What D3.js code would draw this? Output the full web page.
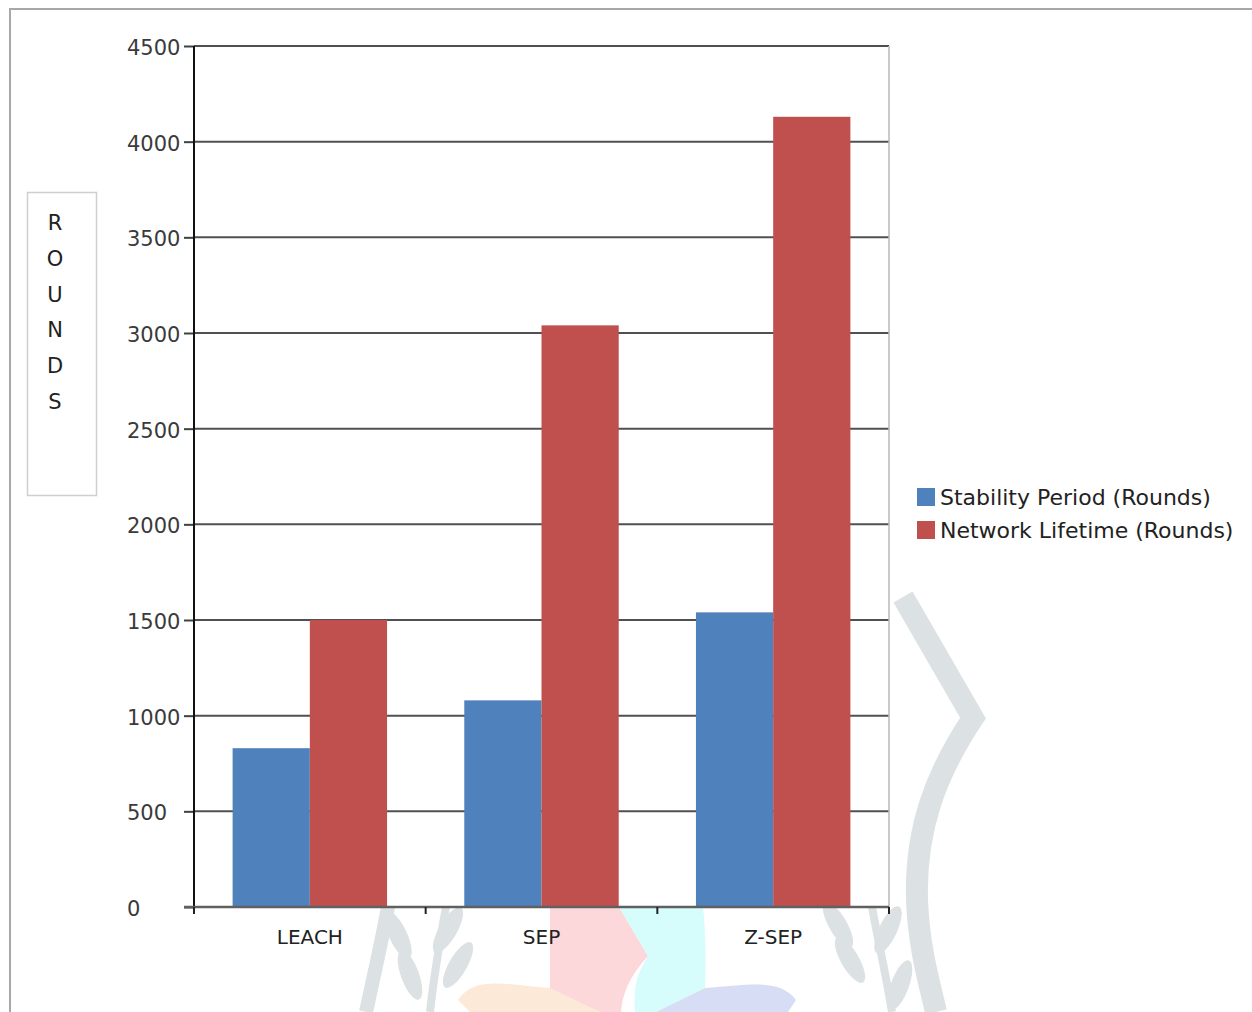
<!DOCTYPE html>
<html>
<head>
<meta charset="utf-8">
<script src="https://cdn.jsdelivr.net/npm/d3@7"></script>
<style>
  html, body { margin: 0; padding: 0; background: #fff; }
  svg { display: block; }
  text { font-family: "DejaVu Sans", "Noto Sans", sans-serif; }
</style>
</head>
<body>
<svg id="chart" width="1252" height="1012"></svg>
<script>
// Protocols compared and the rounds each one lasts
const categories = ["LEACH", "SEP", "Z-SEP"];
const seriesNames = ["Stability Period (Rounds)", "Network Lifetime (Rounds)"];
const stabilityPeriod = [830, 1080, 1540];
const networkLifetime = [1500, 3040, 4130];
const yTicks = [0, 500, 1000, 1500, 2000, 2500, 3000, 3500, 4000, 4500];
const axisTitleLetters = ["R", "O", "U", "N", "D", "S"];

const colors = ["#4f81bd", "#c0504d"];
const FONT = "'DejaVu Sans', sans-serif";

const svg = d3.select("#chart");
const W = 1252, H = 1012;
const margin = { left: 194, top: 46, right: W - 889, bottom: H - 907 };
const plotW = W - margin.left - margin.right;
const plotH = H - margin.top - margin.bottom;

// Faint background emblem behind the chart
const wm = svg.append("g").attr("class", "emblem");
wm.append("path")
  .attr("d", "M903,597 L973,718 C935,775 915,830 917,900 C919,950 930,985 936,1012")
  .attr("fill", "none").attr("stroke", "#dce1e4").attr("stroke-width", 22).attr("stroke-linejoin", "miter");
// wheat stems
wm.append("path")
  .attr("d", "M388,907 C382,940 374,975 366,1012")
  .attr("fill", "none").attr("stroke", "#dce1e4").attr("stroke-width", 14);
wm.append("path")
  .attr("d", "M446,907 C440,940 434,975 430,1012")
  .attr("fill", "none").attr("stroke", "#dce1e4").attr("stroke-width", 8);
wm.append("path")
  .attr("d", "M872,907 C878,940 886,975 892,1012")
  .attr("fill", "none").attr("stroke", "#dce1e4").attr("stroke-width", 8);
const leaves = [
  [398, 935, -25], [410, 975, -20], [448, 930, 30], [458, 965, 30],
  [838, 925, -30], [850, 960, -30], [888, 930, 25], [900, 985, 20]
];
leaves.forEach(([cx, cy, rot]) => {
  wm.append("ellipse").attr("cx", cx).attr("cy", cy).attr("rx", 9).attr("ry", 26)
    .attr("transform", `rotate(${rot},${cx},${cy})`).attr("fill", "#dce1e4");
});
// coloured petals
wm.append("path").attr("d", "M550,907 L619,907 L648,956 C630,975 622,995 621,1012 L600,1012 L550,990 Z").attr("fill", "#fdd8da");
wm.append("path").attr("d", "M619,907 L703,907 C706,935 706,965 705,988 L656,1012 L635,1012 C633,990 636,975 648,956 Z").attr("fill", "#d6fcfc");
wm.append("path").attr("d", "M458,1000 C475,975 505,985 550,988 L600,1012 L470,1012 Z").attr("fill", "#fde9d8");
wm.append("path").attr("d", "M705,988 C750,985 780,978 796,1000 L788,1012 L656,1012 Z").attr("fill", "#d7ddf5");

// Outer frame
svg.append("path")
  .attr("d", "M10,1012 L10,9 L1252,9")
  .attr("fill", "none").attr("stroke", "#a8a8a8").attr("stroke-width", 2);

const g = svg.append("g").attr("transform", `translate(${margin.left},${margin.top})`);

const x0 = d3.scaleBand().domain(categories).range([0, plotW]).paddingInner(0).paddingOuter(0);
const x1 = d3.scaleBand().domain(seriesNames).range([0, x0.bandwidth()]).paddingInner(0).paddingOuter(0.5);
const y = d3.scaleLinear().domain([0, 4500]).range([plotH, 0]);

// plot background
g.append("rect").attr("width", plotW).attr("height", plotH).attr("fill", "#fff");

// horizontal gridlines
g.append("g").selectAll("line").data(yTicks.filter(d => d > 0)).join("line")
  .attr("x1", 0).attr("x2", plotW)
  .attr("y1", d => y(d)).attr("y2", d => y(d))
  .attr("stroke", "#505050").attr("stroke-width", 2);

// right border of the plot area
g.append("line").attr("x1", plotW).attr("x2", plotW).attr("y1", 0).attr("y2", plotH)
  .attr("stroke", "#b8b8b8").attr("stroke-width", 1.5);

// bars
const seriesValues = [stabilityPeriod, networkLifetime];
const groups = g.append("g").selectAll("g").data(categories).join("g")
  .attr("transform", d => `translate(${x0(d)},0)`);
groups.selectAll("rect")
  .data((c, i) => seriesNames.map((s, k) => ({ s, k, v: seriesValues[k][i] })))
  .join("rect")
  .attr("x", d => x1(d.s))
  .attr("width", x1.bandwidth())
  .attr("y", d => y(d.v))
  .attr("height", d => y(0) - y(d.v))
  .attr("fill", d => colors[d.k]);

// y axis: tick labels are left-aligned in a column
const yAxis = d3.axisLeft(y).tickValues(yTicks).tickSize(10).tickFormat(d3.format("d"));
const ya = g.append("g").call(yAxis);
ya.select(".domain").remove();
ya.selectAll(".tick line").attr("stroke", "#404040").attr("stroke-width", 2);
ya.selectAll(".tick text")
  .attr("text-anchor", "start").attr("x", -67).attr("dy", "0.4em")
  .attr("font-size", 21).attr("fill", "#3a3a3a").attr("font-family", FONT);
g.append("line").attr("x1", 0).attr("x2", 0).attr("y1", 0).attr("y2", plotH + 7)
  .attr("stroke", "#111").attr("stroke-width", 2);

// x axis
const xa = g.append("g").attr("transform", `translate(0,${plotH})`)
  .call(d3.axisBottom(x0).tickSize(0).tickPadding(23));
xa.select(".domain").attr("stroke", "#606060").attr("stroke-width", 2.5)
  .attr("d", `M-10,0H${plotW}`);
xa.selectAll(".tick text").attr("font-size", 20).attr("fill", "#222")
  .attr("font-family", FONT);
// category boundary ticks
const boundaries = categories.map(c => x0(c)).concat([plotW]);
xa.append("g").selectAll("line").data(boundaries).join("line")
  .attr("x1", d => d).attr("x2", d => d).attr("y1", 0).attr("y2", 7)
  .attr("stroke", "#222").attr("stroke-width", 2);

// axis title box
svg.append("rect").attr("x", 27.5).attr("y", 192.5).attr("width", 69).attr("height", 303)
  .attr("fill", "#fff").attr("stroke", "#cfcfcf").attr("stroke-width", 1.5);
svg.append("g").selectAll("text").data(axisTitleLetters).join("text")
  .attr("x", 55).attr("y", (d, i) => 230 + i * 35.8)
  .attr("text-anchor", "middle").attr("font-size", 21).attr("fill", "#222")
  .text(d => d);

// legend
const legend = svg.append("g").attr("transform", "translate(917,488)");
const li = legend.selectAll("g").data(seriesNames).join("g")
  .attr("transform", (d, i) => `translate(0,${i * 33})`);
li.append("rect").attr("width", 18).attr("height", 18).attr("fill", (d, i) => colors[i]);
li.append("text").attr("x", 23).attr("y", 17).attr("font-size", 22).attr("fill", "#222").text(d => d);
</script>
</body>
</html>
